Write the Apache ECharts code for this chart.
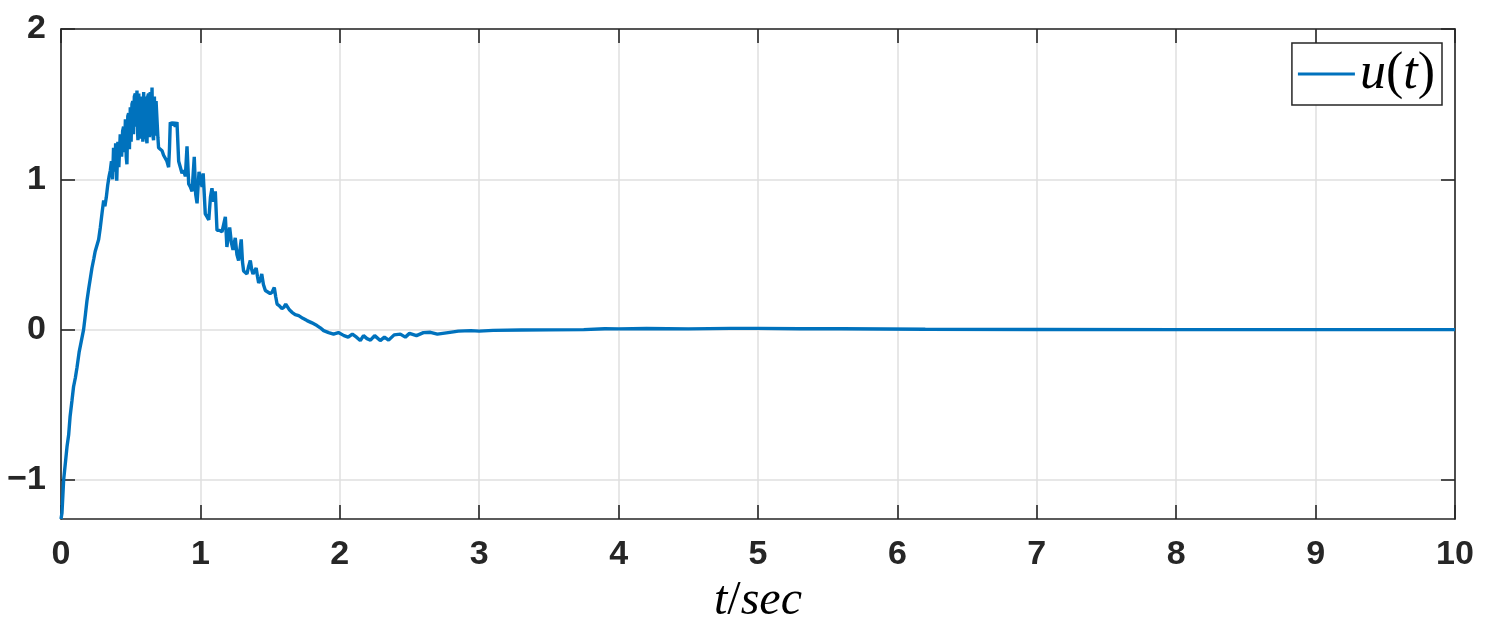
<!DOCTYPE html>
<html>
<head>
<meta charset="utf-8">
<script src="https://cdn.jsdelivr.net/npm/echarts@6/dist/echarts.min.js"></script>
<style>
html,body{margin:0;padding:0;background:#fff;}
#chart{width:1485px;height:639px;}
</style>
</head>
<body>
<div id="chart"></div>
<script>
// time samples (s)
const timeValues = [
0.000,0.007,0.019,0.030,0.043,0.055,0.065,0.079,0.090,0.103,0.115,0.130,0.145,0.162,0.175,0.186,0.200,0.212,0.222,0.235,
0.245,0.258,0.270,0.282,0.295,0.306,0.315,0.325,0.335,0.345,0.354,0.362,0.370,0.377,0.385,0.392,0.400,0.408,0.415,0.425,
0.435,0.442,
0.449,0.455,0.462,0.468,0.473,0.479,0.485,0.491,0.497,0.503,0.509,0.515,0.520,0.526,0.533,0.538,0.545,0.550,0.552,0.558,
0.564,0.570,0.576,0.582,0.587,0.593,0.599,0.605,0.611,0.617,0.622,0.628,0.634,0.640,0.646,0.653,0.658,0.664,0.670,0.676,
0.682,0.689,0.695,0.700,
0.712,0.725,0.736,0.748,0.760,0.772,0.778,0.784,0.796,0.808,0.820,0.832,
0.844,0.856,0.868,0.880,0.892,0.904,0.916,0.928,0.940,0.956,0.966,0.976,0.990,1.004,1.012,1.020,1.035,1.048,1.060,1.072,
1.083,1.095,1.107,1.119,1.137,1.155,1.167,1.179,1.190,1.200,1.210,1.222,1.234,1.250,1.262,1.274,1.293,1.302,1.310,1.322,
1.334,1.346,1.358,1.368,1.377,1.390,1.400,1.410,1.418,1.430,1.440,1.452,1.466,1.480,1.500,1.515,1.530,1.540,1.550,1.565,
1.585,1.600,1.612,1.625,1.640,1.657,1.680,1.705,1.735,1.765,1.800,1.836,1.860,1.884,1.920,1.955,1.990,2.030,2.060,2.090,
2.120,2.147,2.170,2.195,2.220,2.250,2.290,2.320,2.350,2.390,2.434,2.470,2.500,2.550,2.600,2.650,2.700,2.790,2.850,2.940,
3.000,3.100,3.300,3.500,3.750,3.900,4.000,4.200,4.500,4.800,5.000,5.300,5.600,5.900,6.200,7.000,8.000,9.000,10.000
];
// control signal u(t)
const uValues = [
-1.26,-1.22,-1.00,-0.90,-0.78,-0.70,-0.58,-0.47,-0.38,-0.32,-0.25,-0.15,-0.08,0.00,0.10,0.19,0.28,0.35,0.41,0.47,
0.52,0.53,0.60,0.68,0.78,0.86,0.82,0.88,0.96,1.02,1.06,1.12,1.00,1.21,1.05,1.24,0.99,1.25,1.08,1.30,
1.15,1.32,
1.35,1.18,1.40,1.15,1.10,1.42,1.44,1.20,1.48,1.25,1.50,1.52,1.30,1.55,1.57,1.35,1.59,1.30,1.26,1.57,
1.28,1.55,1.27,1.52,1.25,1.58,1.27,1.55,1.28,1.24,1.55,1.57,1.28,1.58,1.30,1.61,1.30,1.26,1.55,1.29,
1.52,1.52,1.28,1.21,
1.20,1.19,1.16,1.14,1.12,1.08,1.20,1.38,1.36,1.38,1.35,1.38,
1.12,1.08,1.04,1.06,1.02,1.22,0.97,0.95,0.92,1.15,0.90,0.84,1.05,1.06,0.95,1.04,0.77,0.75,0.73,0.88,
0.94,0.85,0.92,0.66,0.66,0.65,0.70,0.75,0.55,0.62,0.68,0.58,0.53,0.61,0.50,0.46,0.60,0.45,0.39,0.38,
0.37,0.42,0.46,0.40,0.37,0.38,0.41,0.35,0.31,0.33,0.37,0.30,0.26,0.25,0.24,0.25,0.28,0.22,0.17,0.16,
0.14,0.15,0.17,0.16,0.13,0.115,0.10,0.093,0.075,0.06,0.045,0.027,0.012,-0.007,-0.02,-0.03,-0.02,-0.04,-0.05,-0.03,
-0.05,-0.073,-0.04,-0.06,-0.07,-0.04,-0.073,-0.05,-0.07,-0.035,-0.03,-0.05,-0.025,-0.04,-0.02,-0.018,-0.03,-0.018,-0.01,-0.007,
-0.01,-0.005,-0.003,-0.002,0.0,0.006,0.005,0.007,0.005,0.008,0.008,0.006,0.006,0.004,0.002,0.001,0.0,0.0,0.0
];
const yTickValues = [-1, 0, 1, 2];

const seriesData = timeValues.map((t, i) => [t, uValues[i]]);
const axisColor = '#262626';
const gridColor = '#dfdfdf';
const labelFont = {color: axisColor, fontFamily: 'Liberation Sans', fontWeight: 'bold', fontSize: 34};
const mathRich = (size) => ({
  i: {fontFamily: 'Liberation Serif', fontStyle: 'italic', fontSize: size, color: '#000'},
  r: {fontFamily: 'Liberation Serif', fontSize: size, color: '#000'}
});

const chart = echarts.init(document.getElementById('chart'), null, {renderer: 'canvas'});
chart.setOption({
  animation: false,
  backgroundColor: '#fff',
  grid: {left: 61, right: 30, top: 29, bottom: 120, containLabel: false},
  legend: {
    show: true,
    right: 43, top: 43,
    orient: 'vertical',
    backgroundColor: '#fff',
    borderColor: axisColor, borderWidth: 1.5, borderRadius: 0,
    padding: [5, 7, 5, 6],
    itemWidth: 57, itemHeight: 3, itemGap: 0,
    icon: 'rect',
    data: [{name: 'u(t)', itemStyle: {color: '#0072BD'}}],
    formatter: () => '{i|u}{r|(}{i|t}{r|)}',
    textStyle: {rich: mathRich(52)}
  },
  xAxis: [{
    type: 'value', min: 0, max: 10, interval: 1, position: 'bottom',
    name: '{i|t}{r|/}{i|sec}', nameLocation: 'middle', nameGap: 54,
    nameTextStyle: {rich: mathRich(48)},
    axisLine: {show: true, onZero: false, lineStyle: {color: axisColor, width: 1.6}},
    axisTick: {show: true, inside: true, length: 14, lineStyle: {color: axisColor, width: 1.6}},
    axisLabel: Object.assign({margin: 19}, labelFont),
    splitLine: {show: true, lineStyle: {color: gridColor, width: 1.5}}
  }, {
    type: 'value', min: 0, max: 10, interval: 1, position: 'top',
    axisLine: {show: true, onZero: false, lineStyle: {color: axisColor, width: 1.6}},
    axisTick: {show: true, inside: true, length: 14, lineStyle: {color: axisColor, width: 1.6}},
    axisLabel: {show: false}, splitLine: {show: false}
  }],
  yAxis: [{
    type: 'value', min: -1.26, max: 2, position: 'left',
    axisLine: {show: true, onZero: false, lineStyle: {color: axisColor, width: 1.6}},
    axisTick: {show: true, inside: true, length: 14, customValues: yTickValues, lineStyle: {color: axisColor, width: 1.6}},
    axisLabel: Object.assign({margin: 15, customValues: yTickValues, formatter: v => String(v).replace('-', '\u2212')}, labelFont),
    splitLine: {show: true, lineStyle: {color: gridColor, width: 1.5}}
  }, {
    type: 'value', min: -1.26, max: 2, position: 'right',
    axisLine: {show: true, onZero: false, lineStyle: {color: axisColor, width: 1.6}},
    axisTick: {show: true, inside: true, length: 14, customValues: yTickValues, lineStyle: {color: axisColor, width: 1.6}},
    axisLabel: {show: false}, splitLine: {show: false}
  }],
  series: [{
    name: 'u(t)', type: 'line', data: seriesData,
    xAxisIndex: 0, yAxisIndex: 0,
    showSymbol: false, symbol: 'none',
    lineStyle: {color: '#0072BD', width: 3.4},
    itemStyle: {color: '#0072BD'},
    z: 3
  }]
});
</script>
</body>
</html>
